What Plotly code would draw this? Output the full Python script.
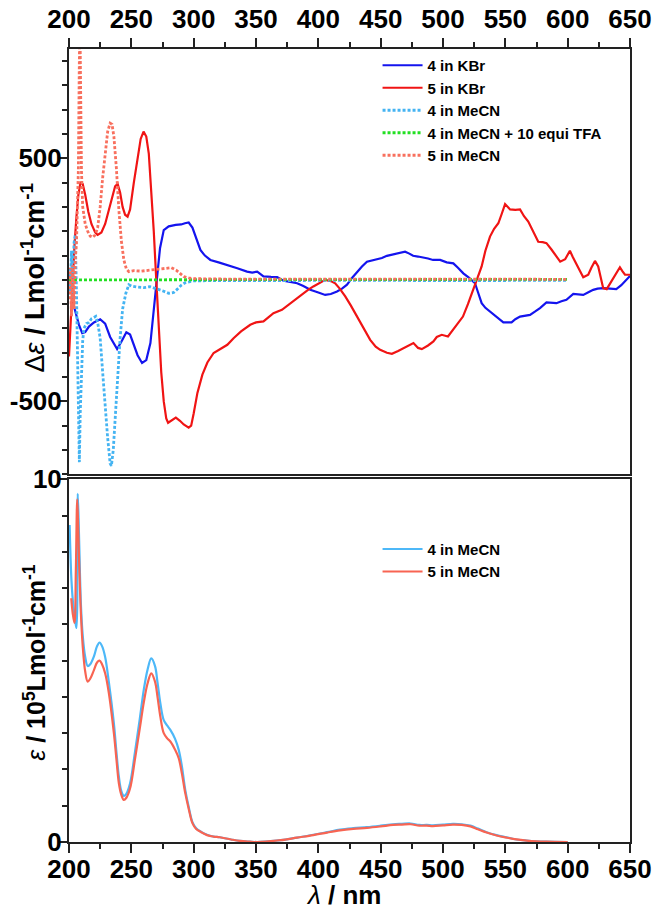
import plotly.graph_objects as go

# ---------------- CD data (top panel) ----------------
kbr4_wl = [200, 202, 204, 206, 208, 210.6, 213, 216, 220, 225, 229, 233, 238.6, 242, 246, 249, 252, 255, 258.6, 262,
           265.3, 268, 270.7, 273, 276, 280, 285.6, 290, 293, 296, 299, 302, 305.4, 309, 313.4, 320, 326.8, 335, 342.8, 347,
           351, 356, 362, 367, 372, 378, 383, 388, 393.5, 400, 405.5, 410, 415, 419, 423, 427, 431, 435, 439, 443,
           447, 451, 455, 459, 463, 466, 469.6, 473, 476, 480, 484, 488, 492, 497.7, 503, 508.3, 512, 516.3, 521, 525.7,
           528, 531, 534, 537.7, 543, 548.4, 555, 558, 561.8, 566, 569.8, 574, 577.8, 583, 587, 591, 595, 599, 604.5, 608,
           612.5, 617, 620.5, 624, 628.5, 634, 639, 643, 646, 650]
kbr4_cd = [30, -30, -110, -150, -185, -219, -215, -192, -175, -162, -180, -235, -285, -255, -216, -225, -265, -310, -342, -330,
           -260, -130, 14, 130, 205, 220, 226, 228, 233, 236, 215, 170, 123, 100, 82, 72, 62, 48, 34, 30,
           34, 14, 12, 11, -3, -8, -14, -25, -41, -52, -62, -58, -48, -36, -20, 8, 34, 55, 75, 80,
           82, 90, 99, 103, 107, 112, 116, 108, 99, 96, 93, 88, 82, 82, 72, 68, 50, 27, 8, -14,
           -50, -96, -115, -130, -155, -175, -175, -162, -151, -148, -144, -130, -116, -93, -94, -96, -88, -82, -58, -60,
           -62, -50, -41, -36, -34, -36, -38, -22, -7, 16]

kbr5_wl = [200, 201.5, 203, 204.5, 206, 207.5, 209.2, 211, 213, 215.5, 218, 221, 223, 226, 229, 232, 235, 237, 239, 241,
           243, 245, 247, 249, 252, 255, 257.5, 259.8, 262, 264, 266, 268, 270, 272, 274, 276, 278, 279.5, 282, 285.7,
           289, 292, 296, 298, 300, 303, 307, 311, 316, 321, 327, 332, 338, 345.4, 350, 356, 360, 364, 370.8, 377.5,
           383, 388, 392, 396, 401, 405.5, 410, 413.5, 417, 421.6, 426, 431, 436, 441.6, 446, 449.6, 455, 459, 464, 468.3,
           472, 476.3, 480, 483, 488, 492.3, 495, 499, 504, 508, 512, 516, 520, 524, 527, 531, 534, 537.7, 541, 544.4,
           547, 549.8, 553.8, 558, 561.8, 565, 568.4, 572, 576.4, 580, 583, 587, 590, 594, 598, 601.8, 604, 607, 610, 612.5,
           616.5, 619, 621.9, 624.5, 626.5, 628.5, 631.3, 634, 636.5, 639, 641.9, 644, 646, 650]
kbr5_cd = [-315, -150, 30, 150, 260, 350, 400, 395, 350, 280, 230, 195, 185, 195, 230, 290, 350, 385, 395, 360,
           300, 268, 260, 290, 400, 500, 580, 610, 590, 520, 380, 200, 0, -200, -380, -500, -570, -588, -580, -567,
           -580, -595, -608, -600, -550, -465, -390, -340, -301, -285, -267, -240, -212, -185, -175, -171, -155, -137, -123, -96,
           -75, -55, -40, -27, -13, 0, -5, -14, -35, -68, -105, -151, -200, -247, -275, -288, -300, -304, -293, -281,
           -270, -260, -280, -285, -270, -253, -235, -226, -233, -205, -180, -151, -100, -41, 5, 55, 120, 178, 210, 233,
           270, 312, 290, 288, 290, 262, 240, 200, 157, 155, 151, 125, 103, 75, 85, 120, 95, 68, 35, 11,
           21, 50, 78, 55, 10, -34, -38, -15, 3, 30, 52, 35, 21, 21]

mecn4_wl = [200, 201, 202, 203, 204, 205, 206, 207, 207.8, 208.3, 209, 210, 211, 212, 214, 216, 218, 220, 221.5, 223,
            225, 227, 229, 231, 233, 234, 235.5, 237, 239, 241, 243, 245.6, 248, 250, 255, 260, 265, 270, 275, 280,
            284, 287, 290, 293, 297, 300, 320, 360, 400, 450, 500, 550, 600]
mecn4_cd = [50, -60, 120, -80, 150, 185, -50, -300, -600, -750, -550, -350, -250, -200, -180, -175, -160, -155, -150, -175,
            -240, -380, -520, -650, -755, -765, -700, -560, -400, -240, -120, -55, -20, -25, -30, -32, -28, -35, -45, -55,
            -52, -38, -22, -12, -6, -4, -3, -2, -1, -2, -3, -2, -2]

tfa4_wl = [200, 250, 300, 350, 400, 450, 500, 550, 600]
tfa4_cd = [0, 0, 1, 1, 0, 1, 2, 2, 2]

mecn5_wl = [200, 201, 202, 203, 204, 205, 206, 207, 207.5, 208.2, 208.7, 209.2, 210, 211, 212, 213, 215, 217, 219, 221,
            223, 225, 227, 229, 231, 233, 234.5, 236, 238, 240, 242, 244, 246, 248, 252, 258, 264, 270, 276, 282,
            286, 289, 292, 296, 300, 330, 400, 450, 500, 550, 600]
mecn5_cd = [-80, 50, -150, 60, -120, 80, 150, 300, 450, 850, 1100, 850, 450, 300, 260, 230, 200, 180, 175, 185,
            215, 300, 420, 530, 610, 645, 640, 590, 460, 288, 160, 82, 45, 34, 38, 36, 40, 42, 46, 50,
            40, 25, 14, 8, 5, 3, 2, 3, 3, 3, 2]

# ---------------- UV-Vis data (bottom panel) ----------------
uv4_wl = [200.5, 202, 203.5, 205, 206, 207, 208, 209.5, 211, 213, 215, 217, 220, 222.5, 224.5, 226.5, 229, 232, 236, 238,
          240, 242, 244, 246, 249, 253, 257, 260, 263, 266, 269, 271, 273.3, 276, 279, 281.3, 285, 288, 290.5, 293.3,
          296, 299, 302, 306, 310.7, 316, 321, 330, 337, 345, 351, 360, 370, 383, 396, 407, 417.5, 428, 439, 450,
          460, 467, 474, 481, 487, 492, 500, 508, 515, 522, 528, 535, 543, 551, 559, 567, 575, 583, 600]
uv4_eps = [8.74, 7.2, 6.5, 6.1, 5.9, 9.6, 8.5, 6.6, 5.7, 5.1, 4.85, 4.9, 5.12, 5.4, 5.5, 5.4, 5.1, 4.4, 3.27, 2.5,
           1.8, 1.4, 1.27, 1.33, 1.62, 2.5, 3.45, 4.2, 4.75, 5.06, 4.85, 4.4, 3.82, 3.36, 3.2, 3.09, 2.85, 2.54, 2.1, 1.43,
           0.97, 0.55, 0.38, 0.28, 0.2, 0.15, 0.13, 0.07, 0.03, 0.01, 0.0, 0.02, 0.05, 0.12, 0.2, 0.27, 0.34, 0.38, 0.41, 0.45,
           0.49, 0.5, 0.51, 0.47, 0.47, 0.46, 0.48, 0.5, 0.49, 0.45, 0.37, 0.27, 0.19, 0.13, 0.07, 0.04, 0.02, 0.01, 0.0]

uv5_wl = [201.8, 203, 204.4, 205.5, 206.6, 207.5, 209.2, 211, 213, 215, 217, 220, 222.5, 224.5, 226.5, 229, 232, 236, 238, 240,
          242, 244, 246, 249, 253, 257, 260, 263, 266, 269, 271, 273.3, 276, 279, 281.3, 285, 288, 290.5, 293.3, 296,
          299, 302, 306, 310.7, 316, 321, 330, 337, 345, 351, 360, 370, 383, 396, 407, 417.5, 428, 439, 450, 460,
          467, 474, 481, 487, 492, 500, 508, 515, 522, 528, 535, 543, 551, 559, 567, 575, 583, 600]
uv5_eps = [6.72, 6.3, 6.04, 7.5, 9.45, 8.5, 6.58, 5.4, 4.7, 4.42, 4.5, 4.74, 4.95, 5.0, 4.9, 4.65, 4.1, 3.0, 2.3, 1.62,
           1.3, 1.16, 1.22, 1.48, 2.3, 3.18, 3.85, 4.37, 4.65, 4.42, 4.0, 3.45, 3.0, 2.85, 2.77, 2.55, 2.31, 1.9, 1.34, 0.92,
           0.52, 0.36, 0.27, 0.19, 0.15, 0.13, 0.07, 0.03, 0.01, 0.0, 0.02, 0.05, 0.12, 0.19, 0.26, 0.32, 0.36, 0.39, 0.43, 0.47,
           0.48, 0.49, 0.45, 0.45, 0.44, 0.46, 0.48, 0.47, 0.43, 0.35, 0.26, 0.18, 0.12, 0.07, 0.04, 0.02, 0.01, 0.0]

top_ticks = [-500, 500]
top_ticktext = ["-500", "500"]
bot_ticks = [0, 10]
bot_ticktext = ["0", "10"]

FONT = "Liberation Sans, Arial, sans-serif"
DOT = "3px,2px"

fig = go.Figure()

# top panel traces (xaxis2 / yaxis2)
fig.add_trace(go.Scatter(x=kbr4_wl, y=kbr4_cd, mode="lines", name="4 in KBr",
                         line=dict(color="#1414EE", width=2.2), xaxis="x2", yaxis="y2", legend="legend"))
fig.add_trace(go.Scatter(x=kbr5_wl, y=kbr5_cd, mode="lines", name="5 in KBr",
                         line=dict(color="#F01414", width=2.2), xaxis="x2", yaxis="y2", legend="legend"))
fig.add_trace(go.Scatter(x=mecn4_wl, y=mecn4_cd, mode="lines", name="4 in MeCN",
                         line=dict(color="#45B4F2", width=2.8, dash=DOT), xaxis="x2", yaxis="y2", legend="legend"))
fig.add_trace(go.Scatter(x=tfa4_wl, y=tfa4_cd, mode="lines", name="4 in MeCN + 10 equi TFA",
                         line=dict(color="#22E022", width=2.8, dash=DOT), xaxis="x2", yaxis="y2", legend="legend"))
fig.add_trace(go.Scatter(x=mecn5_wl, y=mecn5_cd, mode="lines", name="5 in MeCN",
                         line=dict(color="#F8705E", width=2.8, dash=DOT), xaxis="x2", yaxis="y2", legend="legend"))

# bottom panel traces
fig.add_trace(go.Scatter(x=uv4_wl, y=uv4_eps, mode="lines", name="4 in MeCN", line_shape="spline",
                         line=dict(color="#4DB8F8", width=2.2), xaxis="x", yaxis="y", legend="legend2"))
fig.add_trace(go.Scatter(x=uv5_wl, y=uv5_eps, mode="lines", name="5 in MeCN", line_shape="spline",
                         line=dict(color="#F86452", width=2.2), xaxis="x", yaxis="y", legend="legend2"))

tickfont = dict(family=FONT, size=26, color="black", weight="bold")
axline = dict(showline=True, linecolor="#222", linewidth=2, mirror=True, showgrid=False, zeroline=False,
              automargin=False)

ytop = 1.0
ybot_top = 0.4637
ybot_bottom = 0.4574

fig.update_layout(
    width=653, height=911,
    margin=dict(l=69, r=23, t=49, b=69),
    paper_bgcolor="white", plot_bgcolor="white",
    font=dict(family=FONT, color="black"),
    xaxis=dict(domain=[0, 1], range=[200, 650], anchor="y", tickmode="linear", tick0=200, dtick=50,
               ticks="outside", ticklen=9, tickwidth=1.5, tickcolor="#222", tickfont=tickfont, ticklabelstandoff=-6,
               minor=dict(ticks="outside", ticklen=5, tickwidth=1.5, tickcolor="#222", tickmode="linear", tick0=200, dtick=25),
               **axline),
    yaxis=dict(domain=[0, ybot_bottom], range=[0, 10], anchor="x", tickmode="array", tickvals=bot_ticks,
               ticktext=bot_ticktext, ticklabelstandoff=-8,
               ticks="outside", ticklen=8, tickwidth=1.5, tickcolor="#222", tickfont=tickfont,
               minor=dict(ticks="outside", ticklen=5, tickwidth=1.5, tickcolor="#222", tickmode="linear", tick0=0, dtick=1),
               **axline),
    xaxis2=dict(domain=[0, 1], range=[200, 650], anchor="y2", side="top", tickmode="linear", tick0=200, dtick=50,
                ticks="outside", ticklen=9, tickwidth=1.5, tickcolor="#222", tickfont=tickfont,
                minor=dict(ticks="outside", ticklen=5, tickwidth=1.5, tickcolor="#222", tickmode="linear", tick0=200, dtick=25),
                **axline),
    yaxis2=dict(domain=[ybot_top, ytop], range=[-800, 950], anchor="x2", tickmode="array", tickvals=top_ticks,
                ticktext=top_ticktext, ticklabelstandoff=-8,
                ticks="outside", ticklen=8, tickwidth=1.5, tickcolor="#222", tickfont=tickfont,
                minor=dict(ticks="outside", ticklen=5, tickwidth=1.5, tickcolor="#222", tickmode="linear", tick0=0, dtick=100),
                **axline),
    legend=dict(x=0.55, y=1.0, xanchor="left", yanchor="top", bgcolor="rgba(0,0,0,0)",
                font=dict(family=FONT, size=15, color="black", weight="bold"), tracegroupgap=0, itemwidth=40),
    legend2=dict(x=0.55, y=0.39, xanchor="left", yanchor="top", bgcolor="rgba(0,0,0,0)",
                 font=dict(family=FONT, size=15, color="black", weight="bold"), tracegroupgap=0, itemwidth=40),
    showlegend=True,
)

fig.add_annotation(text="Δ<i>ε</i><b> / Lmol<sup>-1</sup>cm<sup>-1</sup></b>", textangle=-90,
                   xref="paper", yref="paper", x=-0.064, y=0.712, xanchor="center", yanchor="middle",
                   showarrow=False, font=dict(family=FONT, size=27, color="black"))
fig.add_annotation(text="<i>ε</i><b> / 10<sup>5</sup>Lmol<sup>-1</sup>cm<sup>-1</sup></b>", textangle=-90,
                   xref="paper", yref="paper", x=-0.061, y=0.227, xanchor="center", yanchor="middle",
                   showarrow=False, font=dict(family=FONT, size=25, color="black"))
fig.add_annotation(text="<i>λ</i><b> / nm</b>", xref="paper", yref="paper", x=0.49, y=-0.0665,
                   xanchor="center", yanchor="middle", showarrow=False, font=dict(family=FONT, size=26, color="black"))

fig.write_html("out.html", config={"displayModeBar": False},
               post_script="document.body.style.margin='0px';")
